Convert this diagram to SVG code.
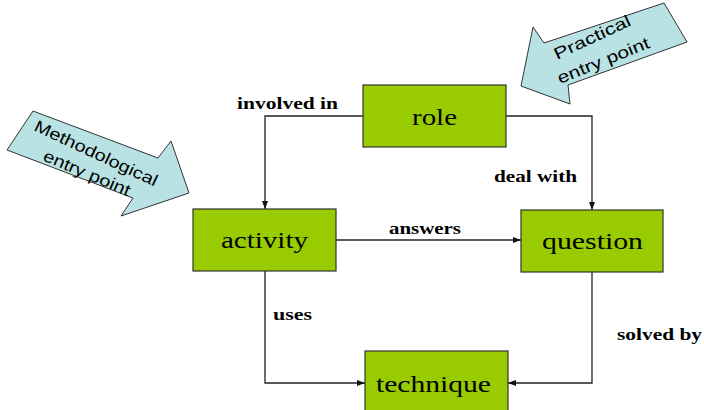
<svg xmlns="http://www.w3.org/2000/svg" width="704" height="410" viewBox="0 0 704 410">
<defs>
<marker id="ah" viewBox="0 0 8 8" refX="8" refY="4" markerWidth="8" markerHeight="8" markerUnits="userSpaceOnUse" orient="auto">
<path d="M0,1 L8,4 L0,7 Z" fill="#111"/>
</marker>
<style>
.box{fill:#99cc00;stroke:#333;stroke-width:1.2}
.bt{font-family:"Liberation Serif","Times New Roman",serif;font-size:24px;fill:#000}
.el{font-family:"Liberation Serif","Times New Roman",serif;font-size:16px;font-weight:bold;fill:#000}
.con{fill:none;stroke:#222;stroke-width:1.3}
.ep{fill:#b9e2e4;stroke:#333;stroke-width:1}
.et{font-family:"Liberation Sans",Arial,sans-serif;font-size:16.5px;fill:#000}
</style>
</defs>
<rect width="704" height="410" fill="#fff"/>
<g id="methodological-entry">
<polygon class="ep" points="33,111 158,158 171,141 189,193 121,216 133,198 7,150"/>
<text class="et" transform="translate(33,130) rotate(25)" textLength="134" lengthAdjust="spacingAndGlyphs">Methodological</text>
<text class="et" transform="translate(42,160) rotate(23)" textLength="93" lengthAdjust="spacingAndGlyphs">entry point</text>
</g>
<g id="practical-entry">
<polygon class="ep" points="664,3 687,42 568,85 570,104 521,86 533,27 544,43"/>
<text class="et" transform="translate(557,60) rotate(-25)" textLength="83" lengthAdjust="spacingAndGlyphs">Practical</text>
<text class="et" transform="translate(560,84) rotate(-22)" textLength="98" lengthAdjust="spacingAndGlyphs">entry point</text>
</g>
<g id="connectors">
<polyline class="con" points="363,116 265,116 265,209" marker-end="url(#ah)"/>
<polyline class="con" points="506,116 592,116 592,210" marker-end="url(#ah)"/>
<line class="con" x1="336" y1="240" x2="521" y2="240" marker-end="url(#ah)"/>
<polyline class="con" points="265,271 265,383 365,383" marker-end="url(#ah)"/>
<polyline class="con" points="592,272 592,383 508,383" marker-end="url(#ah)"/>
<text class="el" x="237" y="109" textLength="101" lengthAdjust="spacingAndGlyphs">involved in</text>
<text class="el" x="494" y="182" textLength="83" lengthAdjust="spacingAndGlyphs">deal with</text>
<text class="el" x="389" y="234" textLength="72" lengthAdjust="spacingAndGlyphs">answers</text>
<text class="el" x="273" y="320" textLength="39" lengthAdjust="spacingAndGlyphs">uses</text>
<text class="el" x="617" y="340" textLength="85" lengthAdjust="spacingAndGlyphs">solved by</text>
</g>
<g id="role">
<rect class="box" x="363" y="85" width="143" height="62"/>
<text class="bt" x="412" y="125" textLength="45" lengthAdjust="spacingAndGlyphs">role</text>
</g>
<g id="activity">
<rect class="box" x="193" y="209" width="143" height="62"/>
<text class="bt" x="221" y="248" textLength="87" lengthAdjust="spacingAndGlyphs">activity</text>
</g>
<g id="question">
<rect class="box" x="521" y="210" width="142" height="62"/>
<text class="bt" x="542" y="249" textLength="101" lengthAdjust="spacingAndGlyphs">question</text>
</g>
<g id="technique">
<rect class="box" x="365" y="351" width="143" height="70"/>
<text class="bt" x="376" y="392" textLength="115" lengthAdjust="spacingAndGlyphs">technique</text>
</g>
</svg>
